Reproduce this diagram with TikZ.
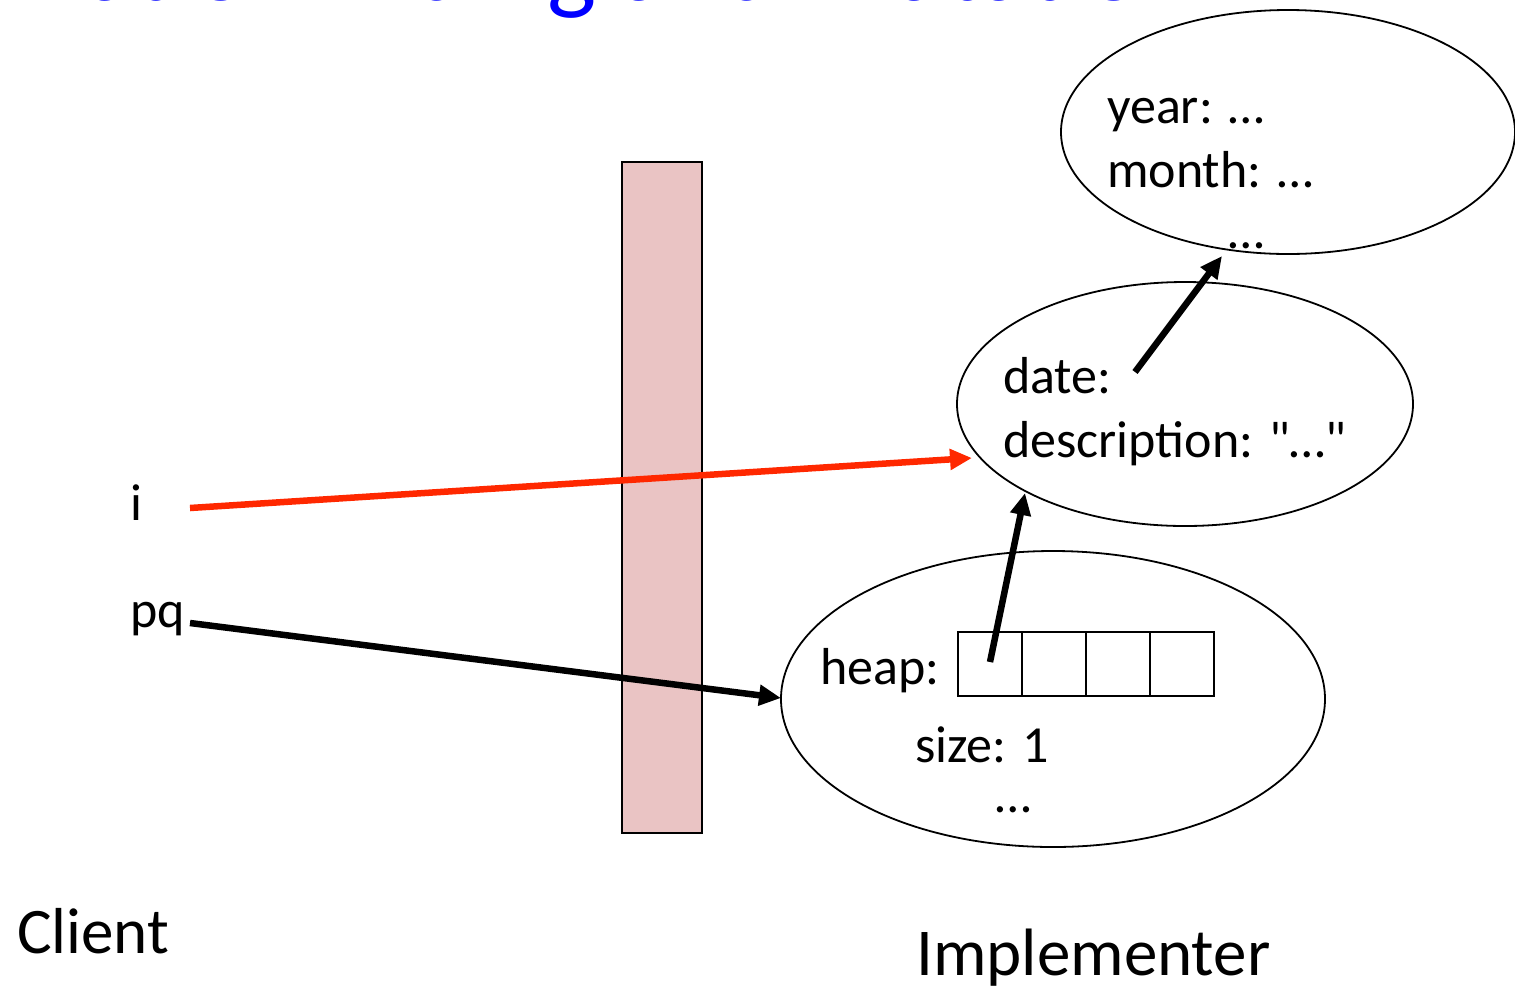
\documentclass[tikz,border=0pt]{standalone}
\usepackage{fontspec}
\setmainfont{Carlito}
\newfontfamily\bodyfont{Carlito}
\usetikzlibrary{shapes.geometric,arrows.meta}
\begin{document}
\begin{tikzpicture}[x=1pt,y=-1pt,
  body/.style={font=\bodyfont\fontsize{52}{62}\selectfont, inner sep=0pt, anchor=base west},
  big/.style={font=\bodyfont\fontsize{65}{78}\selectfont, inner sep=0pt, anchor=base west},
  blob/.style={draw=black, line width=1.8pt, ellipse, inner sep=0pt},
  cell/.style={draw=black, line width=1.8pt, minimum width=64pt, minimum height=64pt, inner sep=0pt, anchor=north west},
  ptr/.style={line width=6.5pt, -{Triangle[length=22pt,width=20pt]}},
]
\useasboundingbox (0,0) rectangle (1515,989);
% cut-off title
\begin{scope}
  \clip (0,0) rectangle (1515,989);
  \node[font=\bodyfont\fontsize{104}{124}\selectfont, text=blue, inner sep=0pt, anchor=base east] (title) at (1197,0.5) {Information Hiding and Mutation};
\end{scope}
% barrier
\node[draw=black, line width=1.8pt, fill={rgb,255:red,234;green,196;blue,196}, minimum width=80pt, minimum height=671pt, inner sep=0pt, anchor=north west] (bar) at (621,161) {};
% ellipses
\node[blob, minimum width=454pt, minimum height=244pt] (rec) at (1288,132) {};
\node[blob, minimum width=456pt, minimum height=244pt] (ev) at (1185,404) {};
\node[blob, minimum width=544pt, minimum height=296pt] (pqobj) at (1053,699) {};
% texts in ellipses
\node[body] (year) at (1107,123) {year: …};
\node[body] (month) at (1107,187) {month: …};
\node[body] (recdots) at (1228,248) {…};
\node[body] (date) at (1003,393) {date:};
\node[body] (desc) at (1003,457) {description: "…"};
\node[body] (heap) at (820,684) {heap:};
\node[body] (size) at (915,762) {size: 1};
\node[body] (pqdots) at (995,812) {…};
% heap cells
\node[cell] (c1) at (957,631) {};
\node[cell] (c2) at (1021,631) {};
\node[cell] (c3) at (1085,631) {};
\node[cell] (c4) at (1149,631) {};
% client variables
\node[body] (vi) at (130,520) {i};
\node[body] (vpq) at (130,627) {pq};
% labels
\node[big] (client) at (17,953) {Client};
\node[big, font=\bodyfont\fontsize{67}{80}\selectfont] (impl) at (916,975) {Implementer};
% connector end points
\coordinate (iS) at (190,508);
\coordinate (iE) at (972,458);
\coordinate (pS) at (190,623);
\coordinate (pE) at (781,698);
\coordinate (hS) at (990,662);
\coordinate (hE) at (1025,493);
\coordinate (dS) at (1135,372);
\coordinate (dE) at (1222,256);
% connectors
\draw[ptr, draw={rgb,255:red,255;green,40;blue,0}, fill={rgb,255:red,255;green,40;blue,0}] (iS) -- (iE);
\draw[ptr] (pS) -- (pE);
\draw[ptr] (hS) -- (hE);
\draw[ptr] (dS) -- (dE);
\end{tikzpicture}
\end{document}
